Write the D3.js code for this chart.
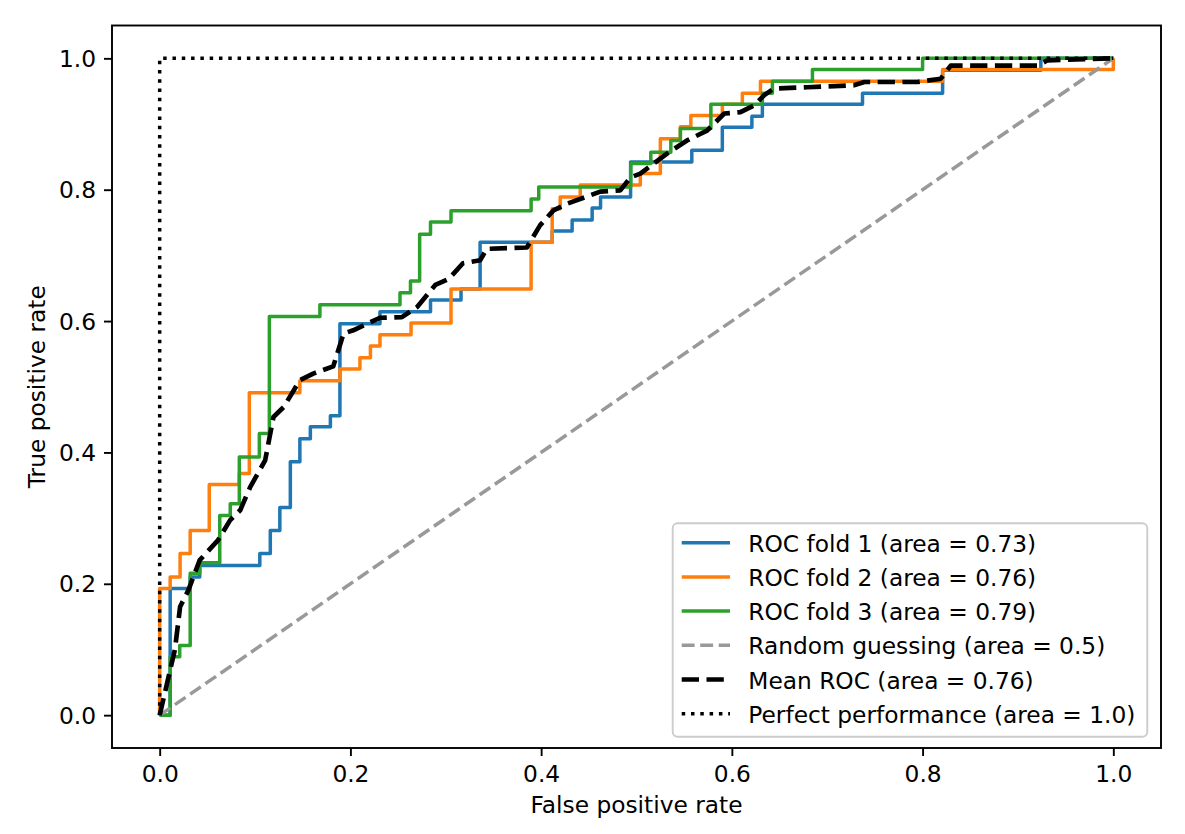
<!DOCTYPE html>
<html>
<head>
<meta charset="utf-8">
<script src="https://cdn.jsdelivr.net/npm/d3@7"></script>
<style>
  html, body { margin: 0; padding: 0; background: #ffffff; }
  svg text { font-family: "DejaVu Sans", sans-serif; }
</style>
</head>
<body>
<svg id="chart" width="1185" height="834"></svg>
<script>
// ---------------- data ----------------
const xTicks = [0.0, 0.2, 0.4, 0.6, 0.8, 1.0];
const yTicks = [0.0, 0.2, 0.4, 0.6, 0.8, 1.0];

const fpr1 = [0, 0.011, 0.011, 0.032, 0.032, 0.042, 0.042, 0.105, 0.105, 0.116, 0.116, 0.126, 0.126, 0.137, 0.137, 0.147, 0.147, 0.158, 0.158, 0.179, 0.179, 0.189, 0.189, 0.231, 0.231, 0.284, 0.284, 0.316, 0.316, 0.336, 0.336, 0.4116, 0.4116, 0.4325, 0.4325, 0.4535, 0.4535, 0.4623, 0.4623, 0.4938, 0.4938, 0.558, 0.558, 0.59, 0.59, 0.621, 0.621, 0.632, 0.632, 0.737, 0.737, 0.821, 0.821, 0.924, 0.924, 1.0];
const tpr1 = [0, 0, 0.193, 0.193, 0.2105, 0.2105, 0.228, 0.228, 0.246, 0.246, 0.281, 0.281, 0.316, 0.316, 0.386, 0.386, 0.421, 0.421, 0.439, 0.439, 0.456, 0.456, 0.596, 0.596, 0.614, 0.614, 0.632, 0.632, 0.649, 0.649, 0.72, 0.72, 0.737, 0.737, 0.754, 0.754, 0.772, 0.772, 0.789, 0.789, 0.842, 0.842, 0.86, 0.86, 0.895, 0.895, 0.912, 0.912, 0.93, 0.93, 0.947, 0.947, 0.982, 0.982, 1.0, 1.0];

const fpr2 = [0, 0, 0.011, 0.011, 0.0214, 0.0214, 0.032, 0.032, 0.052, 0.052, 0.0835, 0.0835, 0.094, 0.094, 0.147, 0.147, 0.189, 0.189, 0.21, 0.21, 0.221, 0.221, 0.231, 0.231, 0.2636, 0.2636, 0.3055, 0.3055, 0.3895, 0.3895, 0.4116, 0.4116, 0.42, 0.42, 0.441, 0.441, 0.504, 0.504, 0.525, 0.525, 0.546, 0.546, 0.557, 0.557, 0.59, 0.59, 0.611, 0.611, 0.63, 0.63, 0.821, 0.821, 1.0, 1.0];
const tpr2 = [0, 0.193, 0.193, 0.2105, 0.2105, 0.246, 0.246, 0.281, 0.281, 0.351, 0.351, 0.368, 0.368, 0.491, 0.491, 0.509, 0.509, 0.527, 0.527, 0.544, 0.544, 0.562, 0.562, 0.579, 0.579, 0.597, 0.597, 0.649, 0.649, 0.72, 0.72, 0.771, 0.771, 0.789, 0.789, 0.807, 0.807, 0.8245, 0.8245, 0.8777, 0.8777, 0.896, 0.896, 0.913, 0.913, 0.93, 0.93, 0.947, 0.947, 0.965, 0.965, 0.983, 0.983, 1.0];

const fpr3 = [0, 0.011, 0.011, 0.021, 0.021, 0.032, 0.032, 0.042, 0.042, 0.063, 0.063, 0.074, 0.074, 0.0835, 0.0835, 0.1045, 0.1045, 0.115, 0.115, 0.168, 0.168, 0.252, 0.252, 0.263, 0.263, 0.2726, 0.2726, 0.284, 0.284, 0.3055, 0.3055, 0.3895, 0.3895, 0.3975, 0.3975, 0.494, 0.494, 0.515, 0.515, 0.536, 0.536, 0.546, 0.546, 0.578, 0.578, 0.632, 0.632, 0.6425, 0.6425, 0.6845, 0.6845, 0.80, 0.80, 1.0];
const tpr3 = [0, 0, 0.089, 0.089, 0.106, 0.106, 0.216, 0.216, 0.232, 0.232, 0.304, 0.304, 0.322, 0.322, 0.393, 0.393, 0.429, 0.429, 0.607, 0.607, 0.625, 0.625, 0.643, 0.643, 0.661, 0.661, 0.732, 0.732, 0.751, 0.751, 0.768, 0.768, 0.786, 0.786, 0.804, 0.804, 0.84, 0.84, 0.857, 0.857, 0.875, 0.875, 0.893, 0.893, 0.93, 0.93, 0.947, 0.947, 0.965, 0.965, 0.983, 0.983, 1.0, 1.0];

const meanFpr = [0, 0.016, 0.0214, 0.03, 0.042, 0.061, 0.0739, 0.0844, 0.095, 0.1106, 0.1193, 0.13, 0.147, 0.161, 0.182, 0.1928, 0.203, 0.231, 0.254, 0.27, 0.289, 0.303, 0.318, 0.336, 0.343, 0.385, 0.399, 0.413, 0.4273, 0.462, 0.483, 0.494, 0.504, 0.511, 0.532, 0.553, 0.574, 0.592, 0.609, 0.623, 0.634, 0.644, 0.679, 0.728, 0.739, 0.7947, 0.819, 0.8295, 0.9206, 0.931, 1.0];
const meanTpr = [0, 0.10, 0.165, 0.19, 0.236, 0.266, 0.297, 0.312, 0.3475, 0.388, 0.454, 0.469, 0.51, 0.52, 0.531, 0.581, 0.586, 0.605, 0.606, 0.6215, 0.655, 0.664, 0.688, 0.6925, 0.71, 0.712, 0.746, 0.7686, 0.7788, 0.797, 0.799, 0.819, 0.8245, 0.832, 0.855, 0.875, 0.89, 0.916, 0.918, 0.928, 0.944, 0.954, 0.956, 0.959, 0.964, 0.964, 0.969, 0.989, 0.989, 0.997, 1.0];

const randomFpr = [0, 1];
const randomTpr = [0, 1];
const perfectFpr = [0, 0, 1];
const perfectTpr = [0, 1, 1];

const seriesLabels = [
  "ROC fold 1 (area = 0.73)",
  "ROC fold 2 (area = 0.76)",
  "ROC fold 3 (area = 0.79)",
  "Random guessing (area = 0.5)",
  "Mean ROC (area = 0.76)",
  "Perfect performance (area = 1.0)"
];
const xLabel = "False positive rate";
const yLabel = "True positive rate";

// ---------------- layout / style ----------------
const FS = 23.3;
const L = 112, R = 1161, T = 25.5, B = 748;

const styles = [
  { color: "#1f77b4", width: 3.5, dash: null },
  { color: "#ff7f0e", width: 3.5, dash: null },
  { color: "#2ca02c", width: 3.5, dash: null },
  { color: "#999999", width: 3.5, dash: "12.9,5.6" },
  { color: "#000000", width: 4.67, dash: "17.3,7.5" },
  { color: "#000000", width: 3.5, dash: "3.5,5.8" }
];

const series = [
  [fpr1, tpr1], [fpr2, tpr2], [fpr3, tpr3],
  [randomFpr, randomTpr], [meanFpr, meanTpr], [perfectFpr, perfectTpr]
];

const svg = d3.select("#chart");
const x = d3.scaleLinear().domain([-0.05, 1.05]).range([L, R]);
const y = d3.scaleLinear().domain([-0.05, 1.05]).range([B, T]);

svg.append("rect").attr("x", 0).attr("y", 0).attr("width", 1185).attr("height", 834).attr("fill", "#fff");

svg.append("clipPath").attr("id", "clip")
  .append("rect").attr("x", L).attr("y", T).attr("width", R - L).attr("height", B - T);

const line = d3.line().x(d => x(d[0])).y(d => y(d[1]));
const plot = svg.append("g").attr("clip-path", "url(#clip)");

series.forEach((s, i) => {
  const pts = s[0].map((v, k) => [v, s[1][k]]);
  const st = styles[i];
  const p = plot.append("path")
    .attr("d", line(pts))
    .attr("fill", "none")
    .attr("stroke", st.color)
    .attr("stroke-width", st.width)
    .attr("stroke-linejoin", "round")
    .attr("stroke-linecap", "butt");
  if (st.dash) p.attr("stroke-dasharray", st.dash);
});

// axes
const xAxis = d3.axisBottom(x).tickValues(xTicks).tickFormat(d3.format(".1f")).tickSize(8).tickPadding(8);
const yAxis = d3.axisLeft(y).tickValues(yTicks).tickFormat(d3.format(".1f")).tickSize(8).tickPadding(8);

const gx = svg.append("g").attr("transform", `translate(0,${B})`).call(xAxis);
const gy = svg.append("g").attr("transform", `translate(${L},0)`).call(yAxis);
[gx, gy].forEach(g => {
  g.select(".domain").remove();
  g.selectAll(".tick line").attr("stroke", "#000").attr("stroke-width", 1.9);
  g.selectAll(".tick text").attr("fill", "#000").style("font-size", FS + "px").style("font-family", "DejaVu Sans");
});
gx.selectAll(".tick text").attr("dy", null).attr("y", 8 + 8).attr("dominant-baseline", "hanging");
gy.selectAll(".tick text").attr("dy", "0.35em");

// frame
svg.append("rect").attr("x", L).attr("y", T).attr("width", R - L).attr("height", B - T)
  .attr("fill", "none").attr("stroke", "#000").attr("stroke-width", 1.9);

// axis labels
svg.append("text").attr("x", (L + R) / 2).attr("y", 813).attr("text-anchor", "middle")
  .style("font-size", FS + "px").text(xLabel);
svg.append("text").attr("transform", `translate(45,${(T + B) / 2}) rotate(-90)`).attr("text-anchor", "middle")
  .style("font-size", FS + "px").text(yLabel);

// legend
const lg = svg.append("g");
lg.append("rect").attr("x", 672.7).attr("y", 523.3).attr("width", 1147.3 - 672.7).attr("height", 736.7 - 523.3)
  .attr("rx", 5).attr("fill", "#fff").attr("fill-opacity", 0.8).attr("stroke", "#cccccc").attr("stroke-width", 1.9);
seriesLabels.forEach((lab, i) => {
  const base = 551.7 + i * 34.2;
  const st = styles[i];
  const hl = lg.append("line").attr("x1", 681.7).attr("x2", 730).attr("y1", base - 9).attr("y2", base - 9)
    .attr("stroke", st.color).attr("stroke-width", st.width);
  if (st.dash) hl.attr("stroke-dasharray", st.dash);
  lg.append("text").attr("x", 748.3).attr("y", base).style("font-size", FS + "px").text(lab);
});
</script>
</body>
</html>
